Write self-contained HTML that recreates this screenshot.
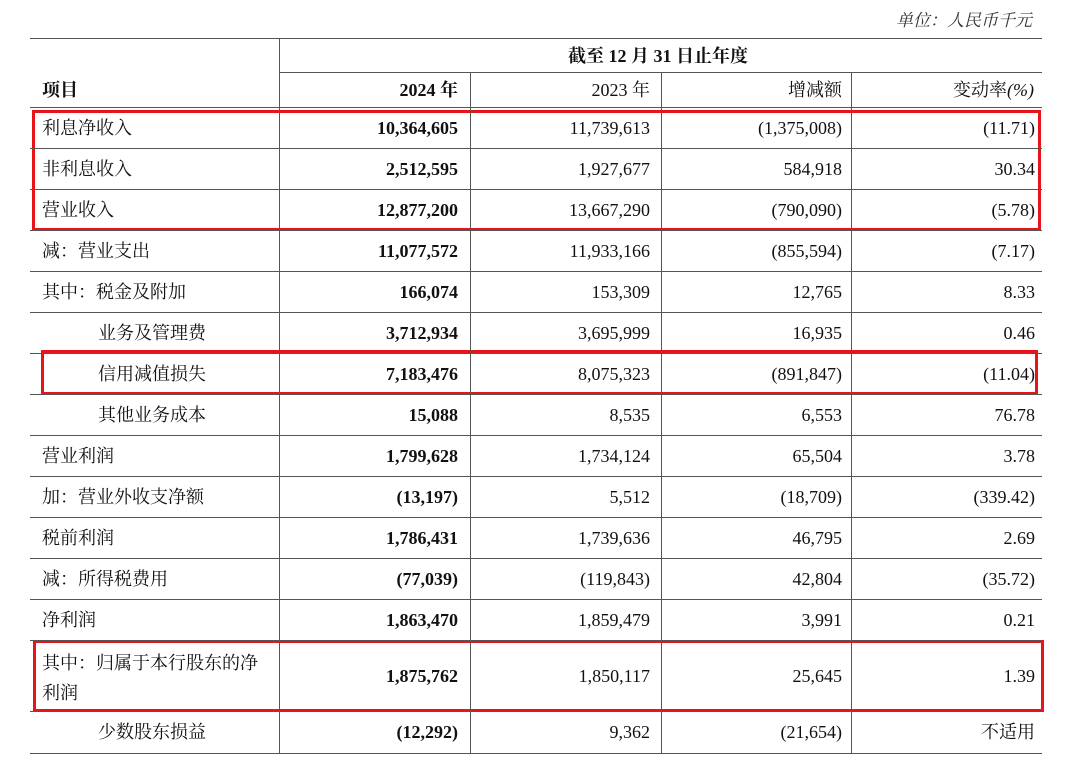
<!DOCTYPE html>
<html><head><meta charset="utf-8"><style>
body{margin:0;background:#fff;width:1080px;height:784px;position:relative;overflow:hidden;font-family:"Liberation Serif","Noto Serif CJK SC",serif;color:#111;}
.hl{position:absolute;height:1px;background:#555;}
.vl{position:absolute;width:1px;background:#555;}
.t{position:absolute;font-size:18px;line-height:22px;white-space:nowrap;}
.r{text-align:right;}
.b{font-weight:bold;}
.box{position:absolute;border:3px solid #e8141a;box-sizing:border-box;}
</style></head><body>
<div class="t" style="right:48px;top:10px;font-style:italic;color:#333;font-size:17px">单位：人民币千元</div>
<div class="t b" style="left:568px;top:45px;font-size:18px">截至 12 月 31 日止年度</div>
<div class="t b" style="left:42px;top:79px">项目</div>
<div class="t b r" style="right:622px;top:79px">2024 年</div>
<div class="t r" style="right:430px;top:79px">2023 年</div>
<div class="t r" style="right:238px;top:79px">增减额</div>
<div class="t r" style="right:46px;top:79px">变动率<i>(%)</i></div>
<div id="tbl"></div>
<div class="box" style="left:32px;top:110px;width:1009px;height:121px"></div>
<div class="box" style="left:41px;top:350px;width:997px;height:45px"></div>
<div class="box" style="left:33px;top:640px;width:1011px;height:72px"></div>
<script>
const labels=["利息净收入","非利息收入","营业收入","减：营业支出","其中：税金及附加","业务及管理费","信用减值损失","其他业务成本","营业利润","加：营业外收支净额","税前利润","减：所得税费用","净利润","其中：归属于本行股东的净<br>利润","少数股东损益"];
const indent=[0,0,0,0,0,1,1,1,0,0,0,0,0,0,1];
const v2024=["10,364,605","2,512,595","12,877,200","11,077,572","166,074","3,712,934","7,183,476","15,088","1,799,628","(13,197)","1,786,431","(77,039)","1,863,470","1,875,762","(12,292)"];
const v2023=["11,739,613","1,927,677","13,667,290","11,933,166","153,309","3,695,999","8,075,323","8,535","1,734,124","5,512","1,739,636","(119,843)","1,859,479","1,850,117","9,362"];
const vChg=["(1,375,008)","584,918","(790,090)","(855,594)","12,765","16,935","(891,847)","6,553","65,504","(18,709)","46,795","42,804","3,991","25,645","(21,654)"];
const vRate=["(11.71)","30.34","(5.78)","(7.17)","8.33","0.46","(11.04)","76.78","3.78","(339.42)","2.69","(35.72)","0.21","1.39","不适用"];
const rowH=[41,41,41,41,41,41,41,41,41,41,41,41,41,71,42];
const b=document.body;
function add(cls,style,html,name){const d=document.createElement('div');d.className=cls;d.setAttribute('style',style);if(html!=null)d.innerHTML=html;


b.appendChild(d);return d;}
add('hl','left:30px;top:38px;width:1012px','', 'table-top-border');
add('hl','left:279px;top:72px;width:763px','', 'header-divider');
add('hl','left:30px;top:107px;width:1012px','', 'header-bottom-border');
let y=107;
for(let i=0;i<labels.length;i++){
 const h=rowH[i];const cy=y+h/2-11;
 const two=labels[i].includes('<br>');
 add('t','left:'+(indent[i]?98:42)+'px;top:'+(two?y+8:cy)+'px;'+(two?'line-height:30px':''),labels[i],'row-label');
 add('t b r','right:622px;top:'+cy+'px',v2024[i],'value-2024');
 add('t r','right:430px;top:'+cy+'px',v2023[i],'value-2023');
 add('t r','right:238px;top:'+cy+'px',vChg[i],'value-change');
 add('t r','right:45px;top:'+cy+'px',vRate[i],'value-rate');
 y+=h;
 add('hl','left:30px;top:'+y+'px;width:1012px','','row-border');
}
add('vl','left:279px;top:38px;height:'+(y-38)+'px','','col-divider');
[470,661,851].forEach(x=>add('vl','left:'+x+'px;top:72px;height:'+(y-72)+'px','','col-divider'));
</script>
</body></html>
